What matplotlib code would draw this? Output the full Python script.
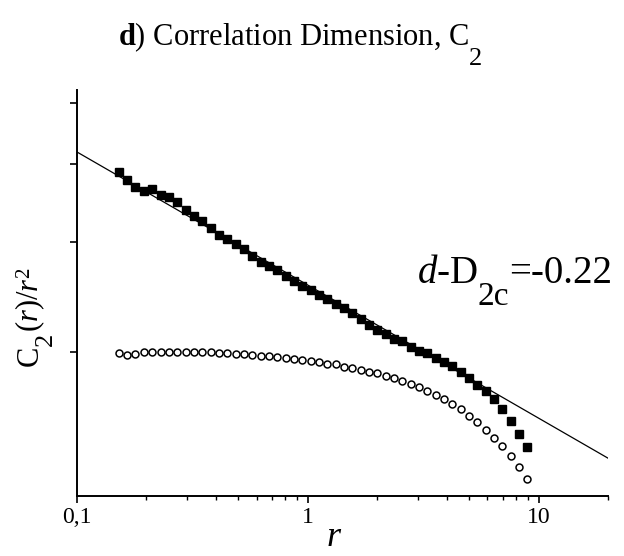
import matplotlib
matplotlib.use("Agg")
import matplotlib.pyplot as plt
from matplotlib.ticker import FixedLocator, LogLocator, NullFormatter, FixedFormatter

plt.rcParams['font.family'] = ['Liberation Serif', 'DejaVu Serif']
plt.rcParams['mathtext.fontset'] = 'custom'
plt.rcParams['mathtext.rm'] = 'Liberation Serif'
plt.rcParams['mathtext.it'] = 'Liberation Serif:italic'
plt.rcParams['mathtext.bf'] = 'Liberation Serif:bold'

# radius values (log spaced)
r = [0.152, 0.165, 0.179, 0.195, 0.212, 0.231, 0.251, 0.272, 0.296, 0.321,
     0.349, 0.379, 0.412, 0.448, 0.487, 0.529, 0.575, 0.625, 0.679, 0.738,
     0.802, 0.871, 0.946, 1.028, 1.117, 1.216, 1.321, 1.435, 1.560, 1.694,
     1.841, 2.000, 2.173, 2.361, 2.566, 2.790, 3.030, 3.296, 3.580, 3.890,
     4.227, 4.592, 4.989, 5.420, 5.890, 6.410, 6.960, 7.570, 8.220, 8.930]

# filled squares
c2_filled = [3.88, 3.77, 3.67, 3.62, 3.65, 3.57, 3.54, 3.48, 3.37, 3.30,
             3.24, 3.16, 3.08, 3.03, 2.98, 2.92, 2.85, 2.79, 2.75, 2.71,
             2.65, 2.60, 2.55, 2.51, 2.47, 2.43, 2.39, 2.35, 2.31, 2.26,
             2.21, 2.17, 2.14, 2.10, 2.08, 2.04, 2.01, 1.99, 1.96, 1.93,
             1.90, 1.86, 1.82, 1.77, 1.73, 1.68, 1.62, 1.55, 1.48, 1.41]

# open circles
c2_open = [1.990, 1.978, 1.985, 2.000, 2.004, 2.004, 2.004, 2.004, 2.001, 2.000,
           2.000, 1.998, 1.996, 1.993, 1.989, 1.985, 1.982, 1.974, 1.968, 1.963,
           1.956, 1.949, 1.941, 1.934, 1.927, 1.917, 1.911, 1.895, 1.883, 1.872,
           1.860, 1.849, 1.833, 1.816, 1.799, 1.779, 1.757, 1.733, 1.708, 1.681,
           1.652, 1.620, 1.582, 1.545, 1.503, 1.458, 1.414, 1.365, 1.310, 1.252]

# fitted power law line (end points)
fit_r = [0.1, 20]
fit_y = [4.18, 1.353]

W, H = 624, 556
fig = plt.figure(figsize=(W / 100, H / 100), dpi=100)
ax = fig.add_axes([0.1234, 0.1079, 0.851, 0.730])

ax.plot(fit_r, fit_y, color='black', lw=0.9, zorder=1)
ax.plot(r, c2_filled, 's', color='black', ms=5.6, zorder=3)
ax.plot(r, c2_open, 'o', mfc='white', mec='black', mew=1.1, ms=5.0, zorder=2)

ax.set_xscale('log')
ax.set_yscale('log')
ax.set_xlim(0.1, 20)
ax.set_ylim(1.177, 5.25)

ax.xaxis.set_major_locator(FixedLocator([0.1, 1, 10]))
ax.xaxis.set_major_formatter(FixedFormatter(['0,1', '1', '10']))
ax.xaxis.set_minor_locator(LogLocator(base=10, subs=range(2, 10)))
ax.xaxis.set_minor_formatter(NullFormatter())
ax.yaxis.set_major_locator(FixedLocator([2, 3, 4, 5]))
ax.yaxis.set_major_formatter(NullFormatter())
ax.yaxis.set_minor_locator(FixedLocator([]))
ax.yaxis.set_minor_formatter(NullFormatter())

for side in ['top', 'right']:
    ax.spines[side].set_visible(False)
for side in ['left', 'bottom']:
    ax.spines[side].set_linewidth(1.4)

ax.tick_params(which='major', direction='out', length=5, width=1.2, labelsize=17, pad=3)
ax.tick_params(which='minor', direction='out', length=3, width=1.0)

renderer = fig.canvas.get_renderer()


def px(x, y):
    # pixel position (from top-left) to figure fraction
    return x / W, 1 - y / H


def put_pieces(x0, baseline, pieces, rotation=0):
    # pieces: (text, fontsize, baseline shift in px downward)
    x = x0
    for txt, size, shift in pieces:
        if rotation == 0:
            t = fig.text(*px(x, baseline + shift), txt, fontsize=size,
                         ha='left', va='baseline')
            bb = t.get_window_extent(renderer)
            x += bb.width
        else:
            # vertical text read bottom to top, x0 is baseline column
            t = fig.text(*px(baseline + shift, x), txt, fontsize=size,
                         ha='left', va='baseline', rotation=90,
                         rotation_mode='anchor')
            bb = t.get_window_extent(renderer)
            x -= bb.height


# x label
fig.text(*px(334, 546), r'$r$', fontsize=26, ha='center', va='baseline')

# title
put_pieces(118, 45, [(r'$\mathbf{d}$) Correlation Dimension, C', 22, 0),
                     ('2', 19, 20)])

# annotation
put_pieces(417, 283, [(r'$d$-D', 28, 0), ('2c', 24, 22), ('=-0.22', 28, 0)])

# y label, drawn rotated from bottom to top
put_pieces(366, 38, [('C', 22, 0), ('2', 19, 14), (r'$(r)/r$', 22, 0),
                     ('2', 15, -9)], rotation=90)

fig.savefig('out.png', dpi=100)
